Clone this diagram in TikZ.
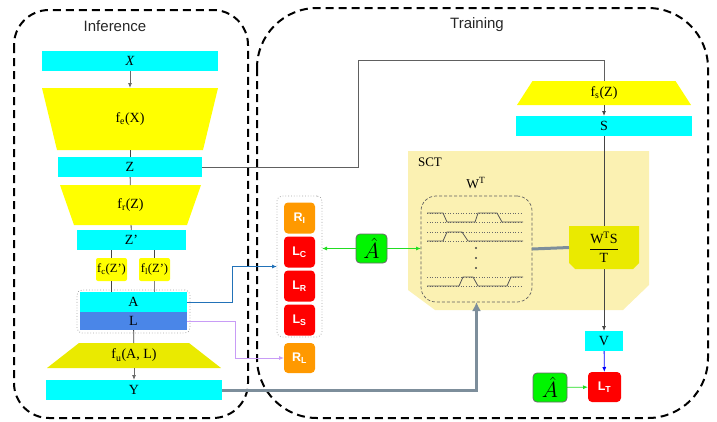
\RequirePackage{fix-cm}
\documentclass[tikz,border=0pt]{standalone}
\usepackage{amsmath}
\usepackage{fontspec}
\setmainfont{Liberation Serif}
\newfontfamily\headsans{Liberation Sans}
\usetikzlibrary{arrows.meta}

\definecolor{boxcyan}{HTML}{00FFFF}
\definecolor{boxyellow}{HTML}{FFFF00}
\definecolor{boxolive}{HTML}{EAEA00}
\definecolor{boxblue}{HTML}{4A86E8}
\definecolor{lossred}{HTML}{FF0000}
\definecolor{lossorange}{HTML}{FF9900}
\definecolor{sctfill}{HTML}{FBF1B2}
\definecolor{hatgreen}{HTML}{00F500}
\definecolor{steel}{HTML}{7D8E9B}
\definecolor{linkblue}{HTML}{2272B8}
\definecolor{linkpurple}{HTML}{C89CF6}
\definecolor{linkgreen}{HTML}{22DD22}
\definecolor{wirec}{HTML}{444444}

\begin{document}
\begin{tikzpicture}[x=1pt,y=-1pt,
  every node/.style={inner sep=0pt,outer sep=0pt},
  lbl/.style={font=\fontsize{14}{16}\selectfont},
  cyanbox/.style={lbl,fill=boxcyan,minimum height=20},
  taperdown/.style 2 args={lbl,path picture={\fill[#2]
      (path picture bounding box.north west) -- (path picture bounding box.north east)
      -- ([xshift=-#1pt]path picture bounding box.south east)
      -- ([xshift=#1pt]path picture bounding box.south west) -- cycle;}},
  taperup/.style 2 args={lbl,path picture={\fill[#2]
      ([xshift=#1pt]path picture bounding box.north west)
      -- ([xshift=-#1pt]path picture bounding box.north east)
      -- (path picture bounding box.south east) -- (path picture bounding box.south west) -- cycle;}},
  chamferbox/.style={lbl,path picture={\fill[boxolive]
      (path picture bounding box.north west) -- (path picture bounding box.north east)
      -- ([yshift=6pt]path picture bounding box.south east)
      -- ([xshift=-6pt]path picture bounding box.south east)
      -- ([xshift=6pt]path picture bounding box.south west)
      -- ([yshift=6pt]path picture bounding box.south west) -- cycle;}},
  smallf/.style={font=\fontsize{12.5}{14}\selectfont,fill=boxyellow,rounded corners=2pt,minimum width=31,minimum height=23},
  lossbox/.style={fill=#1,rounded corners=4pt,minimum width=31,minimum height=31,
      text=white,font=\headsans\bfseries\fontsize{12.5}{14}\selectfont},
  hatbox/.style={fill=hatgreen,draw=wirec!80,line width=0.8pt,rounded corners=4pt,
      minimum width=31,minimum height=29,font=\fontsize{22}{24}\selectfont},
  grp/.style={draw=gray!70,dotted,line width=0.8pt,rounded corners=5pt},
  region/.style={draw=black,line width=2pt,dash pattern=on 8pt off 5pt},
  wire/.style={draw=wirec,line width=0.8pt},
  arr/.style={-{Latex[length=5pt,width=4pt]}},
  thick steel/.style={draw=steel,line width=3pt},
  trace/.style={draw=wirec!90,line width=0.8pt},
  guide/.style={draw=wirec!80,line width=0.6pt,dotted}
]
\useasboundingbox (0,0) rectangle (717,421);

% dashed frames of the two phases
\draw[region,rounded corners=60pt] (257,8) rectangle (708,418);
\draw[region,rounded corners=35pt] (14,10) rectangle (248,418);
\node[font=\headsans\fontsize{15}{17}\selectfont,text=black!85] (inftitle) at (115,26) {Inference};
\node[font=\headsans\fontsize{15}{17}\selectfont,text=black!85] (traintitle) at (477,25) {Training};

% SCT block background
\fill[sctfill] (408,151) -- (649,151) -- (649,285) -- (623,310) -- (435,310) -- (408,290) -- cycle;
\node[font=\fontsize{13}{15}\selectfont] (sct) at (430,162) {SCT};
\node[font=\fontsize{13.5}{15}\selectfont] (wtlabel) at (476,183) {W\textsuperscript{T}};

% inference column
\node[cyanbox,minimum width=176] (X) at (130,61) {\textit{X}};
\node[taperdown={15}{boxyellow},minimum width=176,minimum height=62] (fe) at (130,119) {f\textsubscript{e}(X)};
\node[cyanbox,minimum width=144] (Z) at (130,167) {Z};
\node[taperdown={14}{boxyellow},minimum width=141,minimum height=40] (fr) at (130.5,205) {f\textsubscript{r}(Z)};
\node[cyanbox,minimum width=109] (Zp) at (131.5,240) {Z’};
\node[smallf] (fc) at (111.5,269.5) {f\textsubscript{c}(Z’)};
\node[smallf] (fl) at (154.5,269.5) {f\textsubscript{l}(Z’)};
\node[grp,minimum width=113,minimum height=43] (AL) at (133.5,311.5) {};
\node[cyanbox,minimum width=107] (A) at (133.5,302) {A};
\node[lbl,fill=boxblue,minimum width=107,minimum height=18] (L) at (133.5,321) {L};
\node[taperup={32}{boxolive},minimum width=174,minimum height=25] (fu) at (134,355.5) {f\textsubscript{u}(A, L)};
\node[cyanbox,minimum width=176] (Y) at (134,390) {Y};

\draw[wire,arr,draw=wirec!80] (X) -- (fe);
\draw[wire] (fe) -- (Z);
\draw[wire] (Z) -- (fr);
\draw[wire] (fr) -- (Zp);
\draw[wire] (Zp.south -| fc) -- (fc);
\draw[wire] (Zp.south -| fl) -- (fl);
\draw[wire] (fc) -- (fc |- A.north);
\draw[wire,draw=gray] (fl) -- (fl |- A.north);
\draw[wire] (L) -- (fu);
\draw[wire,arr,draw=wirec!80] (fu) -- (Y);

% training side: student branch
\node[taperup={15.5}{boxyellow},minimum width=174,minimum height=24] (fs) at (604,93) {f\textsubscript{s}(Z)};
\node[cyanbox,minimum width=176] (S) at (604,126) {S};
\node[cyanbox,minimum width=38] (V) at (604,341) {V};
\node[lossbox=lossred,minimum width=33,minimum height=30] (LT) at (604.5,387) {L\textsubscript{T}};
\node[hatbox,minimum width=34] (hatB) at (550,387.5) {$\hat{A}$};

\coordinate (zturn) at (358,60);
\draw[wire,draw=wirec!85] (Z.east) -| (zturn) -| (fs.north);
\draw[wire,arr] (fs) -- (S);
\draw[wire,arr] (S) -- (V);
\draw[line width=0.8pt,draw=blue,arr] (V) -- (LT);
\draw[line width=0.8pt,draw=linkgreen,arr] (hatB) -- (LT);

% template matrix W^T with its signal traces
\node[draw=wirec!85,dashed,dash pattern=on 3pt off 2pt,line width=0.7pt,rounded corners=15pt,
      minimum width=111,minimum height=106] (W) at (476.5,249) {};
\draw[guide] (427,213) -- (523,213);
\draw[guide] (427,222) -- (523,222);
\draw[guide] (427,232) -- (523,232);
\draw[guide] (427,241) -- (523,241);
\draw[guide] (427,277) -- (523,277);
\draw[guide] (427,286) -- (523,286);
\draw[trace] (427,213) -- (443,213) -- (447,222) -- (475,222) -- (478,213) -- (497,213) -- (502,222) -- (523,222);
\draw[trace] (427,241) -- (443,241) -- (447,232) -- (462,232) -- (468,241) -- (523,241);
\draw[trace] (427,286) -- (459,286) -- (463,277) -- (473,277) -- (478,286) -- (507,286) -- (511,277) -- (523,277);
\fill[wirec] (476,248) circle (1.2) (476,258) circle (1.2) (476,268) circle (1.2);

\node[chamferbox,minimum width=70,minimum height=43] (WTS) at (604,247.5)
  {$\genfrac{}{}{1.2pt}{0}{\text{W\textsuperscript{T}S}}{\text{T}}$};
\draw[thick steel] (W.east) -- (WTS.west);

% loss terms
\node[grp,minimum width=45,minimum height=141] (losses) at (299.5,266.5) {};
\node[lossbox=lossorange] (RI) at (299.5,218) {R\textsubscript{I}};
\node[lossbox=lossred] (LC) at (299.5,252) {L\textsubscript{C}};
\node[lossbox=lossred] (LR) at (299.5,286) {L\textsubscript{R}};
\node[lossbox=lossred] (LS) at (299.5,320) {L\textsubscript{S}};
\node[lossbox=lossorange,minimum height=30] (RL) at (299.5,358) {R\textsubscript{L}};

\node[hatbox] (hatA) at (371.5,248.5) {$\hat{A}$};
\draw[line width=0.8pt,draw=linkgreen,arr] (hatA.west) -- (hatA.west -| losses.east);
\draw[line width=0.8pt,draw=linkgreen,arr] (hatA.east) -- (hatA.east -| W.west);

% links from the inference column
\coordinate (bluex) at (232,0);
\coordinate (purplex) at (235,0);
\draw[line width=0.9pt,draw=linkblue,arr] (A.east) -- (A.east -| bluex) |- (losses.west);
\draw[line width=0.9pt,draw=linkpurple,arr] (L.east) -- (L.east -| purplex) |- (RL.west);
\draw[thick steel,-{Latex[length=9pt,width=9pt]}] (Y.east) -| (W.south);
\end{tikzpicture}
\end{document}
